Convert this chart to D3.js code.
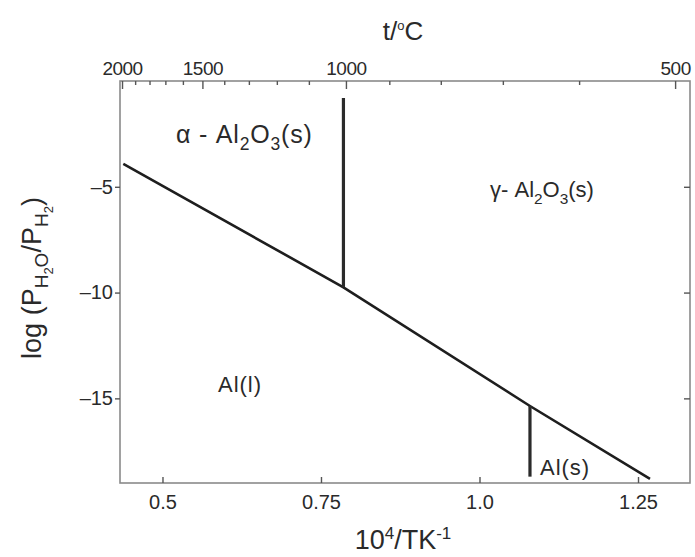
<!DOCTYPE html>
<html>
<head>
<meta charset="utf-8">
<script src="https://cdn.jsdelivr.net/npm/d3@7"></script>
<style>
  html, body { margin: 0; padding: 0; background: #fff; }
  svg { display: block; }
  text { font-family: "Liberation Sans", Arial, sans-serif; fill: #2a2a2a; }
</style>
</head>
<body>
<script>
// Stability diagram of Al / Al2O3 in H2O-H2 atmospheres

// bottom axis: reciprocal temperature
const invTTicks = [0.5, 0.75, 1.0, 1.25];
const invTTickLabels = ["0.5", "0.75", "1.0", "1.25"];
// top axis: temperature in Celsius
const tempMajor = [2000, 1500, 1000, 500];
const tempMinor = [1900, 1800, 1700, 1600, 1400, 1300, 1200, 1100, 900, 800, 700, 600];
// left axis: log(pH2O/pH2)
const logTicks = [-5, -10, -15];

// Al / Al2O3 equilibrium line
const eqInvT = [0.4382, 0.7854, 1.0796, 1.2689];
const eqLog = [-3.92, -9.75, -15.36, -18.81];

// alpha/gamma Al2O3 transition (1000 C) and Al melting boundary
const alphaGammaInvT = [0.7854, 0.7854];
const alphaGammaLog = [-0.8, -9.75];
const meltInvT = [1.0796, 1.0796];
const meltLog = [-15.36, -18.7];

// phase field label anchors (left end of text)
const phaseInvT = [0.5213, 1.0166, 0.5875, 1.0954];
const phaseLog = [-2.93, -5.48, -14.7, -18.62];

const W = 695, H = 557;
const svg = d3.select("body").append("svg").attr("width", W).attr("height", H);

const x = d3.scaleLinear().domain([0.433, 1.332]).range([120, 690]);
// the temperature scale printed along the top runs slightly wider than the bottom one
const xTop = d3.scaleLinear().domain([0.4368, 1.3164]).range([120, 690]);
const y = d3.scaleLinear().domain([-19, 0]).range([483, 81]);
// temperature (C) -> 10^3/T
const toInv = t => 1e3 / (t + 273.15);

const frameColor = "#8a8a8a";

// frame
svg.append("rect")
  .attr("x", x.range()[0]).attr("y", y.range()[1])
  .attr("width", x.range()[1] - x.range()[0])
  .attr("height", y.range()[0] - y.range()[1])
  .attr("fill", "none").attr("stroke", frameColor).attr("stroke-width", 1.6);

// bottom axis
const bottomAxis = d3.axisBottom(x).tickValues(invTTicks)
  .tickFormat((d, i) => invTTickLabels[i]).tickSizeInner(-6).tickSizeOuter(0).tickPadding(12);
const gB = svg.append("g").attr("transform", `translate(0,${y.range()[0]})`).call(bottomAxis);

// top axis (temperature, placed on the reciprocal scale)
const topAxis = d3.axisTop(xTop).tickValues(tempMajor.map(toInv))
  .tickFormat((d, i) => String(tempMajor[i]))
  .tickSizeInner(-8).tickSizeOuter(0).tickPadding(6);
const gT = svg.append("g").attr("transform", `translate(0,${y.range()[1]})`).call(topAxis);
const gTm = svg.append("g").attr("transform", `translate(0,${y.range()[1]})`)
  .call(d3.axisTop(xTop).tickValues(tempMinor.map(toInv)).tickFormat("").tickSizeInner(-4).tickSizeOuter(0));

// left axis
const leftAxis = d3.axisLeft(y).tickValues(logTicks)
  .tickFormat(d => "\u2013" + Math.abs(d)).tickSizeInner(5).tickSizeOuter(0).tickPadding(2);
const gL = svg.append("g").attr("transform", `translate(${x.range()[0]},0)`).call(leftAxis);

// right axis (ticks only)
const gR = svg.append("g").attr("transform", `translate(${x.range()[1]},0)`)
  .call(d3.axisRight(y).tickValues(logTicks).tickFormat("").tickSizeInner(-6).tickSizeOuter(0));

[gB, gT, gTm, gL, gR].forEach(g => {
  g.select(".domain").remove();
  g.selectAll(".tick line").attr("stroke", "#555").attr("stroke-width", 1.4);
  g.selectAll(".tick text").attr("font-size", 20).attr("fill", "#2a2a2a")
    .attr("font-family", "'Liberation Sans', Arial, sans-serif");
});
gT.selectAll(".tick text").attr("font-size", 19).attr("letter-spacing", -0.5);

// equilibrium line and phase boundaries
const line = d3.line().x(d => x(d[0])).y(d => y(d[1]));
svg.append("path").datum(d3.zip(eqInvT, eqLog))
  .attr("d", line).attr("fill", "none").attr("stroke", "#1e1e1e").attr("stroke-width", 2.6);
svg.append("path").datum(d3.zip(alphaGammaInvT, alphaGammaLog))
  .attr("d", line).attr("fill", "none").attr("stroke", "#2a2a2a").attr("stroke-width", 3.2);
svg.append("path").datum(d3.zip(meltInvT, meltLog))
  .attr("d", line).attr("fill", "none").attr("stroke", "#2a2a2a").attr("stroke-width", 3.2);

// phase labels
function oxideLabel(prefix, px, py, fs, ls) {
  const t = svg.append("text").attr("x", px).attr("y", py)
    .attr("font-size", fs).attr("letter-spacing", ls);
  t.append("tspan").text(prefix + "Al");
  t.append("tspan").attr("dy", fs * 0.3).attr("font-size", fs * 0.7).text("2");
  t.append("tspan").attr("dy", -fs * 0.3).text("O");
  t.append("tspan").attr("dy", fs * 0.3).attr("font-size", fs * 0.7).text("3");
  t.append("tspan").attr("dy", -fs * 0.3).text("(s)");
}
oxideLabel("α - ", x(phaseInvT[0]), y(phaseLog[0]), 25, 0.8);
oxideLabel("γ- ", x(phaseInvT[1]), y(phaseLog[1]), 22, 0);
svg.append("text").attr("x", x(phaseInvT[2])).attr("y", y(phaseLog[2]))
  .attr("font-size", 22).attr("letter-spacing", 1).text("Al(l)");
svg.append("text").attr("x", x(phaseInvT[3])).attr("y", y(phaseLog[3]))
  .attr("font-size", 22).attr("letter-spacing", 1).text("Al(s)");

// axis titles
const tTitle = svg.append("text").attr("x", 403).attr("y", 40)
  .attr("text-anchor", "middle").attr("font-size", 26);
tTitle.append("tspan").text("t/");
tTitle.append("tspan").attr("dy", -10).attr("font-size", 13).text("o");
tTitle.append("tspan").attr("dy", 10).text("C");

const xTitle = svg.append("text").attr("x", 403).attr("y", 549)
  .attr("text-anchor", "middle").attr("font-size", 27);
xTitle.append("tspan").text("10");
xTitle.append("tspan").attr("dy", -10).attr("font-size", 17).text("4");
xTitle.append("tspan").attr("dy", 10).text("/TK");
xTitle.append("tspan").attr("dy", -10).attr("font-size", 17).text("-1");

const yTitle = svg.append("text")
  .attr("transform", "translate(41,278) rotate(-90)")
  .attr("text-anchor", "middle").attr("font-size", 27);
yTitle.append("tspan").text("log (P");
yTitle.append("tspan").attr("dy", 7).attr("font-size", 19).text("H");
yTitle.append("tspan").attr("dy", 5).attr("font-size", 13).text("2");
yTitle.append("tspan").attr("dy", -5).attr("font-size", 19).text("O");
yTitle.append("tspan").attr("dy", -7).text("/P");
yTitle.append("tspan").attr("dy", 7).attr("font-size", 19).text("H");
yTitle.append("tspan").attr("dy", 5).attr("font-size", 13).text("2");
yTitle.append("tspan").attr("dy", -12).text(")");
</script>
</body>
</html>
